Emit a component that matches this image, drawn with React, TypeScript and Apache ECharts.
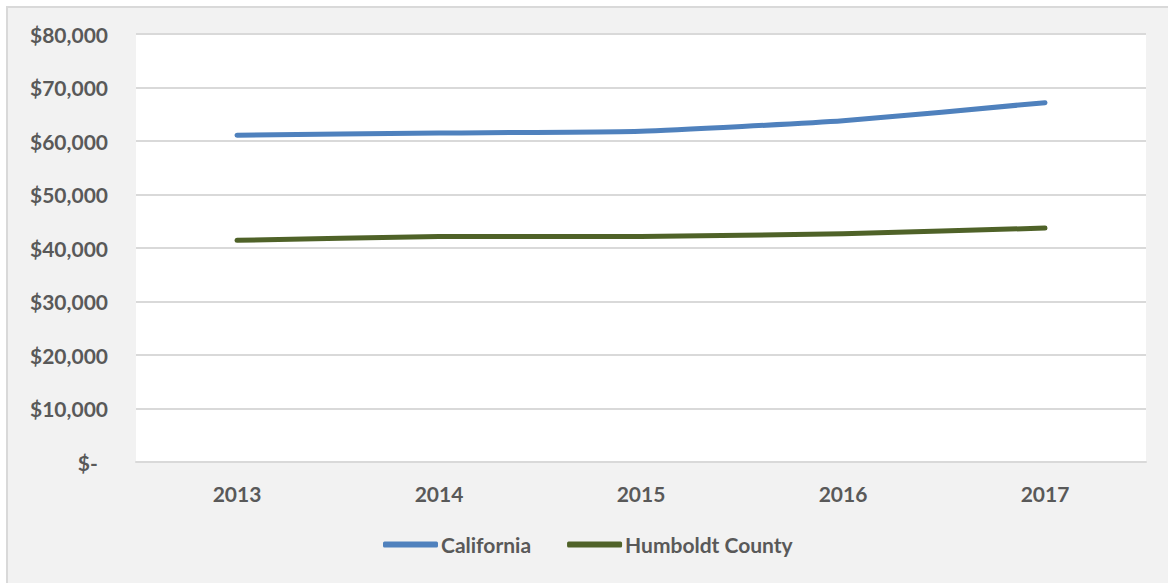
import React, { useEffect, useRef } from "react";
import * as echarts from "echarts";

const years = ["2013", "2014", "2015", "2016", "2017"];
const california = [61094, 61489, 61818, 63783, 67169];
const humboldt = [41426, 42153, 42153, 42685, 43718];
const seriesNames = ["California", "Humboldt County"];
const colors = ["#4f81bd", "#4f6228"];

const FONT = "Lato";

export default function App() {
  const ref = useRef<HTMLDivElement>(null);
  useEffect(() => {
    document.body.style.margin = "0";
    const chart = echarts.init(ref.current!, null, { renderer: "svg" });
    chart.setOption({
      animation: false,
      backgroundColor: "#ffffff",
      graphic: [
        {
          type: "rect",
          left: 6,
          top: 6,
          shape: { x: 0, y: 0, width: 1170, height: 590 },
          style: { fill: "#f2f2f2", stroke: "#d9d9d9", lineWidth: 2 },
          z: -10,
          silent: true,
        },
      ],
      grid: {
        left: 136,
        right: 22,
        top: 34,
        bottom: 121,
        show: true,
        backgroundColor: "#ffffff",
        borderWidth: 0,
      },
      legend: {
        left: 383,
        top: 534,
        padding: 0,
        itemWidth: 55,
        itemHeight: 6,
        itemGap: 36,
        icon: "roundRect",
        textStyle: {
          fontFamily: FONT,
          fontWeight: "bold",
          fontSize: 21,
          color: "#595959",
          padding: [0, 0, 0, -2],
        },
        data: seriesNames,
      },
      xAxis: {
        type: "category",
        data: years,
        boundaryGap: true,
        axisLine: { show: true, lineStyle: { color: "#d9d9d9", width: 2 } },
        axisTick: { show: false },
        axisLabel: {
          margin: 21,
          fontFamily: FONT,
          fontWeight: "bold",
          fontSize: 21,
          color: "#595959",
        },
      },
      yAxis: {
        type: "value",
        min: 0,
        max: 80000,
        interval: 10000,
        axisLine: { show: false },
        axisTick: { show: false },
        splitLine: { lineStyle: { color: "#d9d9d9", width: 2 } },
        axisLabel: {
          margin: 28,
          fontFamily: FONT,
          fontWeight: "bold",
          fontSize: 21,
          color: "#595959",
          formatter: (v: number) =>
            v === 0 ? "$-  " : "$" + v.toLocaleString("en-US"),
        },
      },
      series: [
        {
          name: seriesNames[0],
          type: "line",
          data: california,
          smooth: 0.15,
          symbol: "none",
          color: colors[0],
          lineStyle: { width: 5, cap: "round", join: "round", color: colors[0] },
        },
        {
          name: seriesNames[1],
          type: "line",
          data: humboldt,
          smooth: 0.15,
          symbol: "none",
          color: colors[1],
          lineStyle: { width: 5, cap: "round", join: "round", color: colors[1] },
        },
      ],
    });
    return () => chart.dispose();
  }, []);
  return <div ref={ref} style={{ width: 1168, height: 583 }} />;
}
